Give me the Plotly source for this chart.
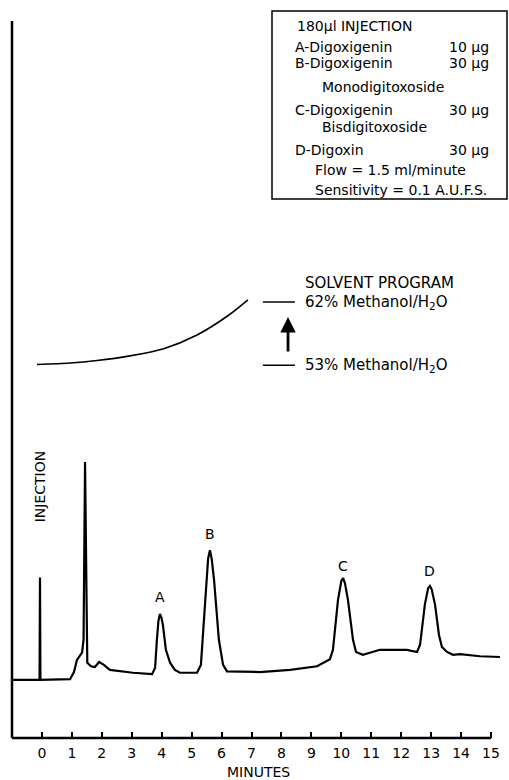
import plotly.graph_objects as go

# ---------------- data ----------------
# chromatogram trace: time (minutes) and detector response (arbitrary units)
trace_min = [-0.97, -0.08, -0.065, -0.05, 0.94, 1.07, 1.17, 1.34, 1.39, 1.44, 1.49, 1.515,
             1.64, 1.77, 1.91, 2.07, 2.27, 3.04, 3.68, 3.78, 3.84, 3.89, 3.94, 3.99, 4.04,
             4.14, 4.28, 4.44, 4.61, 5.18, 5.31, 5.45, 5.55, 5.61, 5.67, 5.75, 5.91, 6.05,
             6.18, 7.28, 8.29, 9.19, 9.62, 9.72, 9.89, 10.0, 10.06, 10.12, 10.22, 10.39,
             10.49, 10.72, 11.02, 11.29, 12.19, 12.53, 12.63, 12.79, 12.9, 12.96, 13.02,
             13.13, 13.26, 13.36, 13.53, 13.73, 13.96, 14.13, 14.63, 15.3]
trace_resp = [8.1, 8.1, 22.4, 8.1, 8.2, 9.2, 10.9, 11.9, 13.7, 38.5, 19.3, 10.5,
              10.0, 9.9, 10.6, 10.2, 9.5, 9.1, 8.9, 9.8, 13.7, 16.3, 17.3, 16.8, 15.8,
              12.3, 10.5, 9.5, 9.1, 9.1, 10.2, 19.3, 25.0, 26.2, 25.0, 22.0, 13.7, 10.2,
              9.3, 9.2, 9.5, 10.0, 11.0, 12.3, 19.3, 21.9, 22.3, 21.6, 19.3, 13.7,
              12.0, 11.6, 12.0, 12.3, 12.3, 12.0, 13.0, 18.6, 20.9, 21.2, 20.7,
              18.6, 14.4, 12.7, 12.0, 11.6, 11.7, 11.6, 11.4, 11.3]

# solvent program gradient curve
solv_min = [-0.165, 0.94, 1.84, 2.94, 4.04, 5.18, 6.28, 6.88]
solv_level = [52.1, 52.3, 52.65, 53.3, 54.25, 56.2, 59.1, 61.1]
solv_start_level = 52.0
solv_end_level = 60.8
solv_mark_min = [7.38, 8.45]

# peaks
peak_labels = ["A", "B", "C", "D"]
peak_min = [3.94, 5.61, 10.06, 12.96]
peak_label_level = [19.6, 28.4, 24.0, 23.3]

# injection marker
inj_min = -0.065
inj_label_level = 29.8

tick_vals = list(range(0, 16))
tick_text = [str(v) for v in tick_vals]

legend_lines = ["180\u00b5l INJECTION", "A-Digoxigenin", "B-Digoxigenin", "Monodigitoxoside",
                "C-Digoxigenin", "Bisdigitoxoside", "D-Digoxin", "Flow = 1.5 ml/minute",
                "Sensitivity = 0.1 A.U.F.S."]
legend_amounts = ["", "10 \u00b5g", "30 \u00b5g", "", "30 \u00b5g", "", "30 \u00b5g", "", ""]

# ---------------- layout helpers ----------------
W, H = 509, 780
L, R, T, B = 12, 500, 21, 738
FONT = "DejaVu Sans"


def pxx(px):
    return (px - L) / (R - L)


def pyy(py):
    return (B - py) / (B - T)


fig = go.Figure()

fig.add_trace(go.Scatter(x=trace_min, y=trace_resp, mode="lines",
                         line=dict(color="black", width=2.2), hoverinfo="skip"))
fig.add_trace(go.Scatter(x=solv_min, y=solv_level, mode="lines", line_shape="spline",
                         line=dict(color="black", width=1.6, smoothing=0.8), hoverinfo="skip"))
fig.add_trace(go.Scatter(x=solv_mark_min, y=[solv_end_level] * 2, mode="lines",
                         line=dict(color="black", width=1.5), hoverinfo="skip"))
fig.add_trace(go.Scatter(x=solv_mark_min, y=[solv_start_level] * 2, mode="lines",
                         line=dict(color="black", width=1.5), hoverinfo="skip"))

ann = []
# peak labels
for lab, xm, yl in zip(peak_labels, peak_min, peak_label_level):
    ann.append(dict(x=xm, y=yl, xref="x", yref="y", text=lab, showarrow=False,
                    font=dict(size=14, family=FONT, color="black"), yanchor="middle"))
# injection label
ann.append(dict(x=inj_min, y=inj_label_level, xref="x", yref="y", text="INJECTION",
                showarrow=False, textangle=-90, yanchor="bottom", xanchor="center",
                font=dict(size=14, family=FONT, color="black")))
# solvent program arrow
arrow_x = 8.22
ann.append(dict(x=arrow_x, y=58.7, ax=arrow_x, ay=53.7, xref="x", yref="y", axref="x", ayref="y",
                text="", showarrow=True, arrowhead=2, arrowsize=1.1, arrowwidth=2.8,
                arrowcolor="black"))
txt_x = 8.72
ann.append(dict(x=txt_x, y=63.5, xref="x", yref="y", text="SOLVENT PROGRAM", showarrow=False,
                xanchor="left", font=dict(size=15, family=FONT, color="black")))
ann.append(dict(x=txt_x, y=solv_end_level, xref="x", yref="y", text="62% Methanol/H<sub>2</sub>O",
                showarrow=False, xanchor="left", font=dict(size=15, family=FONT, color="black")))
ann.append(dict(x=txt_x, y=solv_start_level, xref="x", yref="y", text="53% Methanol/H<sub>2</sub>O",
                showarrow=False, xanchor="left", font=dict(size=15, family=FONT, color="black")))

# legend box text
line_py = [26, 47, 63, 87, 110, 127, 150, 170, 190]
line_px = [295, 293, 293, 320, 293, 320, 293, 313, 313]
for t, a, py, px in zip(legend_lines, legend_amounts, line_py, line_px):
    ann.append(dict(x=pxx(px), y=pyy(py), xref="paper", yref="paper", text=t, showarrow=False,
                    xanchor="left", yanchor="middle", font=dict(size=14, family=FONT, color="black")))
    if a:
        ann.append(dict(x=pxx(491), y=pyy(py), xref="paper", yref="paper", text=a, showarrow=False,
                        xanchor="right", yanchor="middle", font=dict(size=14, family=FONT, color="black")))

# x axis title
ann.append(dict(x=pxx(258), y=pyy(772), xref="paper", yref="paper", text="MINUTES", showarrow=False,
                xanchor="center", yanchor="middle", font=dict(size=14, family=FONT, color="black")))

shapes = [
    # legend box
    dict(type="rect", xref="paper", yref="paper", x0=pxx(272), x1=pxx(507), y0=pyy(199), y1=pyy(11),
         line=dict(color="black", width=1.5)),
    # left axis line
    dict(type="line", xref="paper", yref="paper", x0=0, x1=0, y0=0, y1=1,
         line=dict(color="black", width=2.5)),
    # bottom axis line
    dict(type="line", xref="x", yref="paper", x0=-1, x1=15, y0=0, y1=0,
         line=dict(color="black", width=2.5)),
]

fig.update_layout(
    width=W, height=H,
    margin=dict(l=L, r=W - R, t=T, b=H - B, autoexpand=False),
    paper_bgcolor="white", plot_bgcolor="white",
    showlegend=False,
    annotations=ann, shapes=shapes,
    xaxis=dict(range=[-1, 15.3], tickvals=tick_vals, ticktext=tick_text, ticks="inside",
               ticklen=6, tickwidth=2, tickcolor="black", showgrid=False, zeroline=False,
               showline=False, ticklabelstandoff=5,
               tickfont=dict(size=14, family=FONT, color="black"), fixedrange=True),
    yaxis=dict(range=[0, 100], showticklabels=False, ticks="", showgrid=False, zeroline=False,
               showline=False, fixedrange=True),
)

fig.write_html("out.html", config={"displayModeBar": False},
               post_script="document.body.style.margin='0';document.body.style.overflow='hidden';")
